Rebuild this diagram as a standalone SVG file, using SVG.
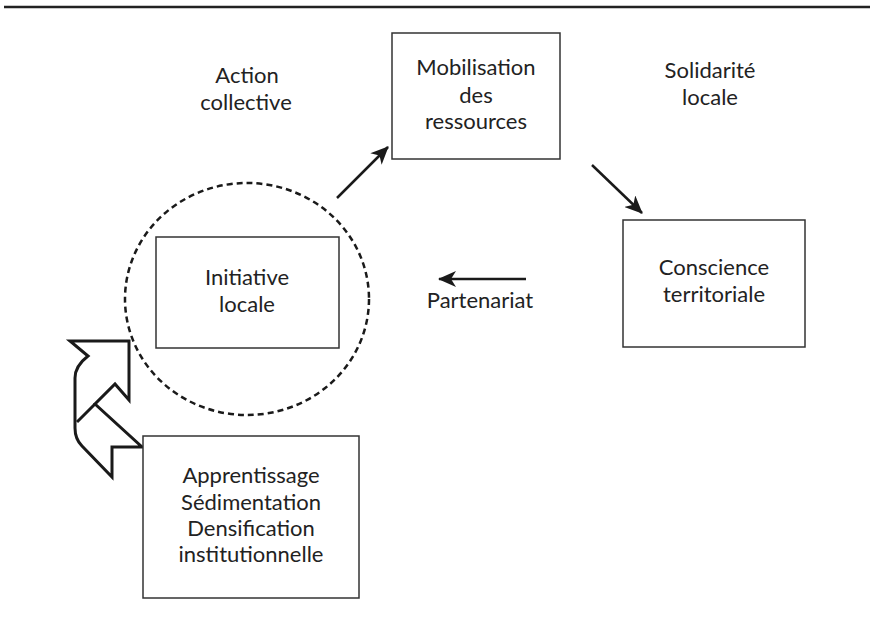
<svg xmlns="http://www.w3.org/2000/svg" width="870" height="627" viewBox="0 0 870 627">
<defs>
<style>
.box{fill:#fff;stroke:#333;stroke-width:1.5}
.t{font-family:Lato,"Liberation Sans",sans-serif;font-size:22px;fill:#222;text-anchor:middle}
.c{fill:none;stroke:#1a1a1a;stroke-width:2.5}
</style>
<marker id="ah" viewBox="0 0 18 16" refX="17" refY="8" markerWidth="18" markerHeight="16" markerUnits="userSpaceOnUse" orient="auto">
<path d="M0,0 L18,8 L0,16 L5,8 Z" fill="#1a1a1a"/>
</marker>
</defs>
<rect width="870" height="627" fill="#fff"/>
<line x1="4" y1="7" x2="870" y2="7" stroke="#222" stroke-width="2.5"/>
<ellipse cx="247" cy="299" rx="122" ry="116" fill="none" stroke="#1a1a1a" stroke-width="2.5" stroke-dasharray="6,4"/>
<g id="connectors">
<line class="c" x1="337" y1="198" x2="388" y2="147" marker-end="url(#ah)"/>
<line class="c" x1="592" y1="165" x2="642" y2="213" marker-end="url(#ah)"/>
<line class="c" x1="526" y1="279" x2="439" y2="279" marker-end="url(#ah)"/>
<g id="bigarrow" fill="#fff" stroke="#1a1a1a" stroke-width="3" stroke-linejoin="miter">
<path d="M70,341 H129 V400 L115,384 L95,404 L142,447 H112 V477 L82,446 Q75,439 75,428 V378 Q75,366 88,356 Z"/>
<path d="M95,404 L77,422" fill="none"/>
</g>
</g>
<g id="action"><text class="t" x="247" y="83">Action</text><text class="t" x="246" y="110">collective</text></g>
<g id="solidarite"><text class="t" x="710" y="78">Solidarité</text><text class="t" x="710" y="105">locale</text></g>
<g id="partenariat"><text class="t" x="480" y="308">Partenariat</text></g>
<g id="mobilisation"><rect class="box" x="392" y="33" width="168" height="126"/><text class="t" x="476" y="75">Mobilisation</text><text class="t" x="476" y="103">des</text><text class="t" x="476" y="129">ressources</text></g>
<g id="initiative"><rect class="box" x="156" y="237" width="183" height="111"/><text class="t" x="247" y="285">Initiative</text><text class="t" x="247" y="312">locale</text></g>
<g id="conscience"><rect class="box" x="623" y="220" width="182" height="127"/><text class="t" x="714" y="275">Conscience</text><text class="t" x="714" y="302">territoriale</text></g>
<g id="apprentissage"><rect class="box" x="143" y="436" width="216" height="162"/><text class="t" x="251" y="483">Apprentissage</text><text class="t" x="251" y="510">Sédimentation</text><text class="t" x="251" y="536">Densification</text><text class="t" x="251" y="562">institutionnelle</text></g>
</svg>
